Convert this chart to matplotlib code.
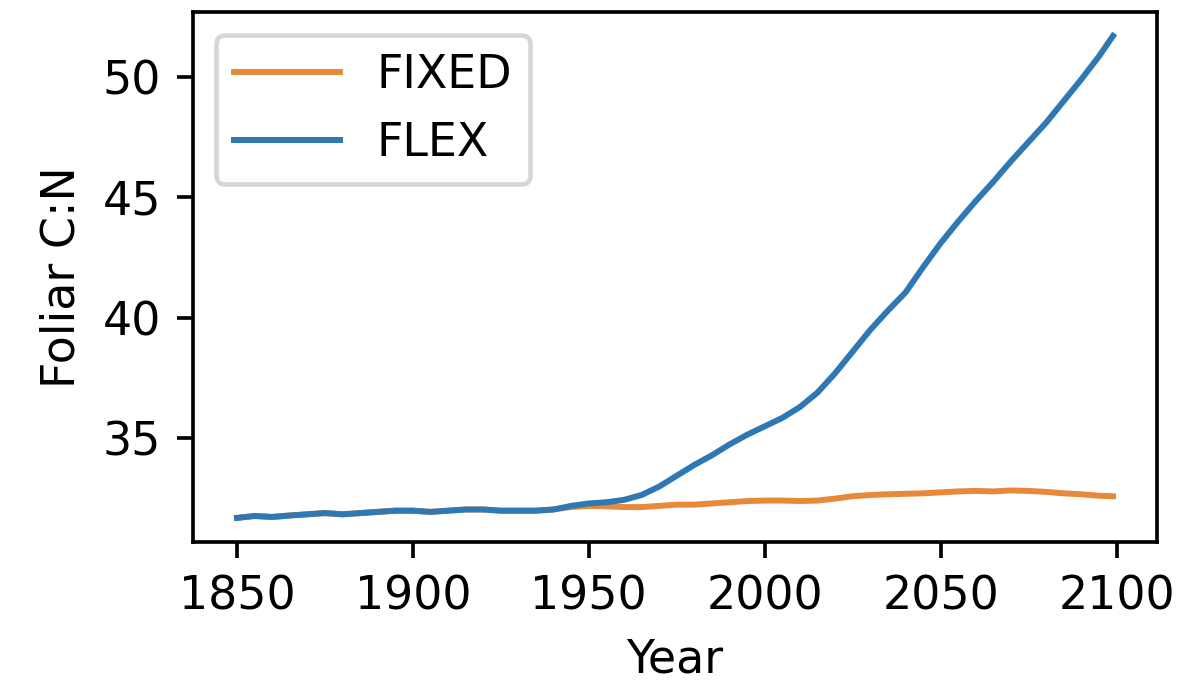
import numpy as np
import matplotlib
matplotlib.use("Agg")
import matplotlib.pyplot as plt

# foliar C:N, 5-yearly from the model runs
years = [1850, 1855, 1860, 1865, 1870, 1875, 1880, 1885, 1890, 1895,
         1900, 1905, 1910, 1915, 1920, 1925, 1930, 1935, 1940, 1945,
         1950, 1955, 1960, 1965, 1970, 1975, 1980, 1985, 1990, 1995,
         2000, 2005, 2010, 2015, 2020, 2025, 2030, 2035, 2040, 2045,
         2050, 2055, 2060, 2065, 2070, 2075, 2080, 2085, 2090, 2095, 2099]

cn_fixed = [31.70, 31.78, 31.74, 31.80, 31.85, 31.90, 31.85, 31.90, 31.95, 32.00,
            32.00, 31.95, 32.00, 32.05, 32.05, 32.00, 32.00, 32.00, 32.05, 32.15,
            32.20, 32.18, 32.15, 32.15, 32.20, 32.25, 32.25, 32.30, 32.35, 32.40,
            32.42, 32.42, 32.40, 32.42, 32.50, 32.60, 32.65, 32.68, 32.70, 32.72,
            32.76, 32.80, 32.82, 32.80, 32.84, 32.82, 32.78, 32.72, 32.68, 32.62, 32.60]

cn_flex = [31.70, 31.78, 31.74, 31.80, 31.85, 31.90, 31.85, 31.90, 31.95, 32.00,
           32.00, 31.95, 32.00, 32.05, 32.05, 32.00, 32.00, 32.00, 32.05, 32.20,
           32.30, 32.35, 32.45, 32.65, 33.00, 33.45, 33.90, 34.30, 34.75, 35.15,
           35.50, 35.85, 36.30, 36.90, 37.70, 38.60, 39.50, 40.30, 41.05, 42.10,
           43.10, 44.00, 44.85, 45.65, 46.50, 47.30, 48.10, 49.00, 49.90, 50.85, 51.70]

fig = plt.figure(figsize=(1178 / 330, 694 / 330), dpi=330)
ax = fig.add_axes([0.164, 0.219, 0.818, 0.764])

ax.plot(years, cn_fixed, color="#e8893a", lw=1.3, label="FIXED")
ax.plot(years, cn_flex, color="#2f78b3", lw=1.3, label="FLEX")

ax.set_xticks([1850, 1900, 1950, 2000, 2050, 2100])
ax.set_yticks([35, 40, 45, 50])
ax.set_xlabel("Year")
ax.set_ylabel("Foliar C:N")
ax.legend(loc="upper left", handlelength=2.3)

fig.savefig("out.png", dpi=330)
